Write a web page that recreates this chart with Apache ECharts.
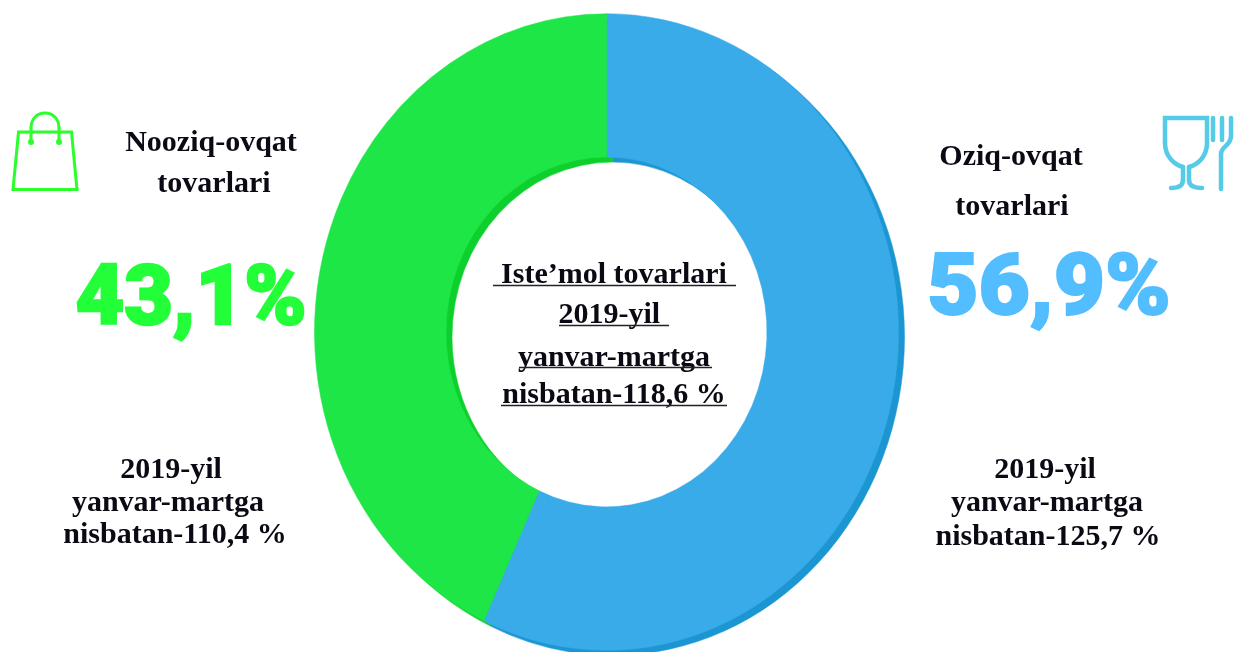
<!DOCTYPE html>
<html><head><meta charset="utf-8">
<style>html,body{margin:0;padding:0;background:#fff}#c{width:1235px;height:652px}</style>
<script src="https://cdn.jsdelivr.net/npm/echarts@6/dist/echarts.min.js"></script>
</head><body><div id="c"></div>
<script>
const categories = ['Oziq-ovqat tovarlari', 'Nooziq-ovqat tovarlari'];
const shares = [56.9, 43.1];
const shareLabels = ['56,9%', '43,1%'];
const centerLines = [' Iste’mol tovarlari ', '2019-yil ', 'yanvar-martga', 'nisbatan-118,6 %'];
const leftTitle = ['Nooziq-ovqat', 'tovarlari'];
const rightTitle = ['Oziq-ovqat', 'tovarlari'];
const leftNote = ['2019-yil', 'yanvar-martga', 'nisbatan-110,4 %'];
const rightNote = ['2019-yil', 'yanvar-martga', 'nisbatan-125,7 %'];
const ringColors = ['#38ABE8', '#1EE646'];
const bevelColors = ['#1C96D2', '#0ED02C'];

const total = shares.reduce((a, b) => a + b, 0);
function ring(colors, dx, dy, z) {
  return {
    type: 'custom', coordinateSystem: 'none', silent: true, z,
    data: shares.map((v, i) => ({ name: categories[i], value: [v, shares.slice(0, i).reduce((a, b) => a + b, 0)] })),
    renderItem(params, api) {
      const start = -Math.PI / 2 + api.value(1) / total * Math.PI * 2;
      const end = start + api.value(0) / total * Math.PI * 2;
      return {
        type: 'sector', x: 606.5 + dx, y: 332 + dy, scaleY: 1.09,
        shape: { cx: 0, cy: 0, r: 292, r0: 160.5, startAngle: start, endAngle: end, clockwise: true },
        style: { fill: colors[params.dataIndex], stroke: colors[params.dataIndex], lineWidth: 0.5 }
      };
    }
  };
}
const serifSize = 30;
const txt = (text, x, base, opt) => {
  const o = opt || {};
  const size = o.size || serifSize;
  return {
    type: 'text', z: 20, silent: true,
    x, y: base - size * 0.8,
    scaleX: o.sx || 1, originX: 0, originY: 0,
    style: {
      text, x: 0, y: 0,
      font: o.font || ('bold ' + size + 'px "Liberation Serif"'),
      fill: o.fill || '#0a0a14', textAlign: 'center', textBaseline: 'middle',
      stroke: o.stroke || null, lineWidth: o.lw || 0
    }
  };
};
const rule = (x1, x2, y) => ({
  type: 'line', z: 20, silent: true,
  shape: { x1, y1: y, x2, y2: y }, style: { stroke: '#222', lineWidth: 1.6 }
});
const poly = (points, stroke, w, closed) => ({
  type: closed ? 'polygon' : 'polyline', z: 20, silent: true,
  shape: { points }, style: { stroke, fill: closed ? 'none' : null, lineWidth: w, lineCap: 'round', lineJoin: 'miter' }
});
const bez = (x1, y1, cpx1, cpy1, cpx2, cpy2, x2, y2, stroke, w) => ({
  type: 'bezierCurve', z: 20, silent: true,
  shape: { x1, y1, cpx1, cpy1, cpx2, cpy2, x2, y2 },
  style: { stroke, fill: null, lineWidth: w, lineCap: 'round' }
});
const dot = (cx, cy, r, fill) => ({ type: 'circle', z: 20, silent: true, shape: { cx, cy, r }, style: { fill } });
const G = '#2BFF2B', B = '#55CBE8', bw = 4.5;
const graphics = [
  txt(leftTitle[0], 211, 152), txt(leftTitle[1], 214, 193),
  txt(rightTitle[0], 1011, 166), txt(rightTitle[1], 1012, 216),
  txt(shareLabels[1], 191, 328, { size: 84, font: '900 84px Roboto', fill: '#22FF38', stroke: '#22FF38', lw: 2.5 }),
  txt(shareLabels[0], 1049, 318, { size: 86, font: '900 86px Roboto', fill: '#52BDFF', stroke: '#52BDFF', lw: 2, sx: 1.03 }),
  txt(leftNote[0], 171, 479), txt(leftNote[1], 168, 512), txt(leftNote[2], 175, 544),
  txt(rightNote[0], 1045, 479), txt(rightNote[1], 1047, 512), txt(rightNote[2], 1048, 546),
  txt(centerLines[0], 614, 284), txt(centerLines[1], 613, 324), txt(centerLines[2], 614, 367), txt(centerLines[3], 614, 404),
  rule(493, 736, 285.5), rule(559, 669, 325.5), rule(519, 712, 367.5), rule(501, 727, 405.5),
  poly([[18.5, 132], [71.5, 132], [77, 189.5], [13, 189.5]], G, 3, true),
  poly([[31, 142], [31, 128]], G, 3), poly([[59, 142], [59, 128]], G, 3),
  bez(31, 128, 31, 108, 59, 108, 59, 128, G, 3),
  dot(31, 142, 3, G), dot(59, 142, 3, G),
  poly([[1165, 143], [1165, 118], [1207, 118], [1207, 143]], B, bw),
  bez(1165, 143, 1165, 157, 1175, 165, 1183, 167, B, bw),
  bez(1207, 143, 1207, 157, 1197, 165, 1189, 167, B, bw),
  poly([[1183, 167], [1183, 180]], B, bw), poly([[1189, 167], [1189, 180]], B, bw),
  bez(1183, 180, 1183, 186, 1178, 188, 1171, 188, B, bw),
  bez(1189, 180, 1189, 186, 1195, 188, 1202, 188, B, bw),
  poly([[1213, 118], [1213, 140]], B, bw), poly([[1222, 118], [1222, 140]], B, bw), poly([[1231, 118], [1231, 136]], B, bw),
  bez(1231, 136, 1231, 146, 1221, 146, 1221, 154, B, bw),
  poly([[1221, 154], [1221, 189]], B, bw)
];
const chart = echarts.init(document.getElementById('c'), null, { renderer: 'canvas' });
chart.setOption({
  backgroundColor: '#fff', animation: false,
  series: [ring(bevelColors, 6, 5, 1), ring(ringColors, 0, 0, 2)],
  graphic: { elements: graphics }
});
</script></body></html>
